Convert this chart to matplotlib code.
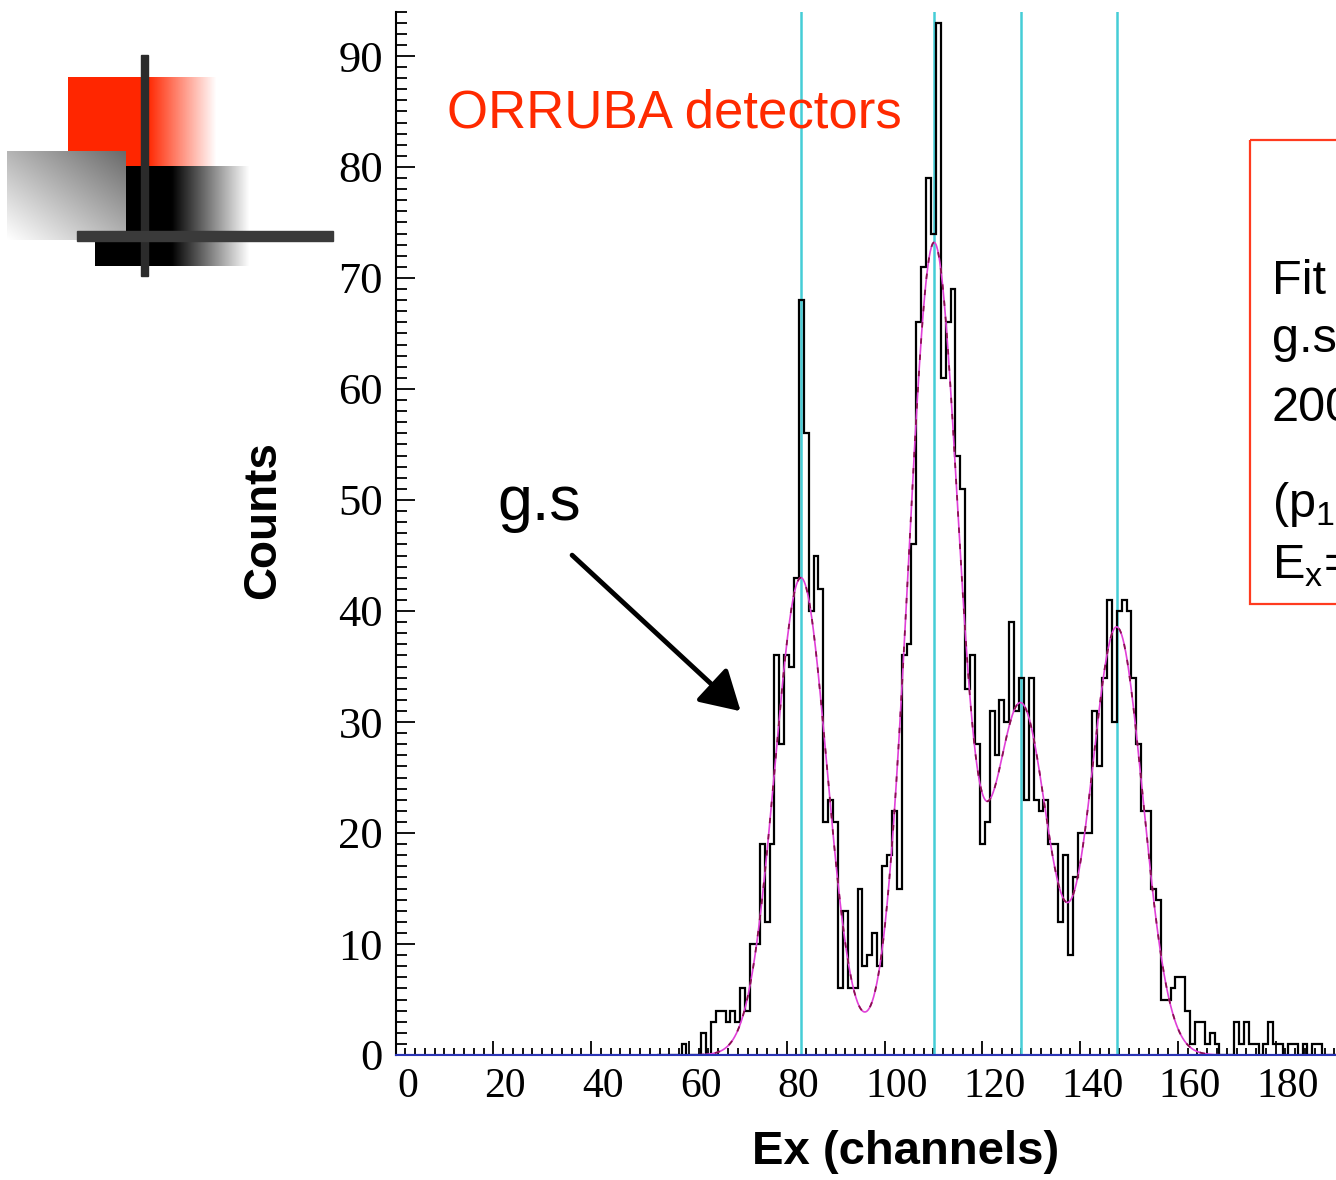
import numpy as np
import matplotlib.pyplot as plt
from matplotlib.patches import Rectangle
from matplotlib.transforms import ScaledTranslation

plt.rcParams['font.family'] = 'Liberation Sans'
plt.rcParams['mathtext.fontset'] = 'custom'
plt.rcParams['mathtext.rm'] = 'Liberation Sans'

# Ex spectrum, 1-channel bins, first bin centred on channel 54
first_channel = 54
counts = [0, 0, 0, 0, 0, 1, 0, 0, 0, 2, 0, 3, 4, 4, 3, 4, 3, 6, 4, 10,
          10, 19, 12, 19, 36, 28, 36, 35, 43, 68, 56, 40, 45, 42, 21, 23, 21, 6, 13, 6,
          6, 15, 8, 9, 11, 8, 17, 18, 22, 15, 36, 37, 46, 66, 71, 79, 74, 93, 61, 66,
          69, 54, 51, 33, 36, 28, 19, 21, 31, 27, 32, 30, 39, 31, 34, 23, 34, 23, 22, 23,
          19, 19, 12, 18, 9, 16, 20, 20, 20, 31, 26, 34, 41, 30, 40, 41, 40, 34, 28, 22,
          22, 15, 14, 5, 5, 6, 7, 7, 4, 1, 3, 3, 1, 2, 1, 0, 0, 0, 3, 1,
          3, 1, 1, 0, 1, 3, 1, 1, 0, 1, 1, 0, 1, 0, 1, 1, 0, 0, 0]

# four-gaussian fit (centroids also marked with vertical lines)
peak_pos = [82.9, 110.1, 127.9, 147.5]
peak_amp = [43.0, 73.0, 31.5, 38.5]
peak_sigma = [5.3, 5.2, 5.6, 5.3]
fit_lo, fit_hi = 62, 172

x_ticks = [0, 20, 40, 60, 80, 100, 120, 140, 160, 180]
y_ticks = [0, 10, 20, 30, 40, 50, 60, 70, 80, 90]

W, H = 1336, 1180
fig = plt.figure(figsize=(W / 100, H / 100), dpi=100)
ax = fig.add_axes([395.5 / W, 125 / H, 978 / W, 1043.4 / H])

edges = np.arange(len(counts) + 1) + first_channel - 0.5
ax.stairs(counts, edges, color='black', lw=1.6, zorder=3)

xf = np.linspace(fit_lo, fit_hi, 1000)
yf = np.zeros_like(xf)
for mu, a, s in zip(peak_pos, peak_amp, peak_sigma):
    yf += a * np.exp(-0.5 * ((xf - mu) / s) ** 2)
ax.plot(xf, yf, color='#e040d8', lw=1.2, zorder=4)
ax.plot(xf, yf, color='#8a1050', lw=1.3, dashes=(3, 6), zorder=4)

for mu in peak_pos:
    ax.axvline(mu, color='#45cdd6', lw=1.8, zorder=2)

ax.axhline(0, color='#2a35b5', lw=1.5, zorder=5)

ax.set_xlim(0, 200)
ax.set_ylim(0, 94)
ax.set_xticks(x_ticks)
ax.set_xticks(np.arange(0, 200, 2), minor=True)
ax.set_yticks(y_ticks)
ax.set_yticks(np.arange(0, 95, 1), minor=True)
ax.tick_params(which='both', direction='in', top=False, right=False, color='black')
ax.tick_params(axis='x', which='major', length=10, width=1.3, pad=9, labelsize=30)
ax.tick_params(axis='x', which='minor', length=5, width=1.3)
ax.tick_params(axis='y', which='major', length=14, width=1.3, pad=9, labelsize=32)
ax.tick_params(axis='y', which='minor', length=8, width=1.3)
shift = ScaledTranslation(0.12, 0, fig.dpi_scale_trans)
for lbl in ax.get_xticklabels():
    lbl.set_fontfamily('Liberation Serif')
    lbl.set_transform(lbl.get_transform() + shift)
for lbl in ax.get_yticklabels():
    lbl.set_fontfamily('Liberation Serif')

for side in ('top', 'right'):
    ax.spines[side].set_visible(False)
ax.spines['left'].set_linewidth(1.5)
ax.spines['bottom'].set_color('#2a35b5')
ax.spines['bottom'].set_linewidth(1.5)

ax.text(10.5, 83.6, 'ORRUBA detectors', color='#ff2a00', fontsize=38, va='baseline')
ax.text(20.8, 48.2, 'g.s', fontsize=45, va='baseline')
ax.annotate('', xy=(71.0, 30.8), xytext=(35.7, 45.2),
            arrowprops=dict(arrowstyle='-|>,head_length=0.6,head_width=0.35',
                            lw=3.5, color='black', mutation_scale=40))

fig.text(263 / W, 1 - 520 / H, 'Counts', rotation=90, ha='center', va='center',
         fontsize=33, fontweight='bold')
fig.text(906 / W, 1 - 1152 / H, 'Ex (channels)', ha='center', va='center',
         fontsize=34, fontweight='bold')

# slide decoration and the fit-result box, in pixel coordinates
deco = fig.add_axes([0, 0, 1, 1], zorder=5)
deco.patch.set_alpha(0)
deco.axis('off')

xr = np.linspace(68, 217, 150)
red = np.zeros((1, xr.size, 4))
red[..., 0], red[..., 1], red[..., 2] = 1.0, 0.15, 0.0
red[0, :, 3] = np.clip((217 - xr) / (217 - 148), 0, 1)
deco.imshow(red, extent=[68, 217, 166, 77], aspect='auto', interpolation='bilinear')

xb = np.linspace(95, 250, 160)
blk = np.zeros((1, xb.size, 4))
blk[0, :, 3] = np.clip((250 - xb) / (250 - 172), 0, 1)
deco.imshow(blk, extent=[95, 250, 266, 166], aspect='auto', interpolation='bilinear')

u, v = np.meshgrid(np.linspace(0, 1, 60), np.linspace(0, 1, 60))
g = 1 - 0.58 * (u + (1 - v)) / 2
gray = np.dstack([g, g, g])
deco.imshow(gray, extent=[7, 126, 240, 151], aspect='auto', interpolation='bilinear')

deco.add_patch(Rectangle((141, 55), 7, 221, color='#2b2b2b'))
deco.add_patch(Rectangle((77, 231), 256, 10, color='#3a3a3a'))

deco.add_patch(Rectangle((1250, 140), 200, 464, fill=False, edgecolor='#ff3b1f', lw=1.6))
for y, s in [(294, 'Fit'), (352, 'g.s'), (421, '200'), (517, '(p$_1$'), (579, 'E$_\\mathrm{x}$=')]:
    deco.text(1272, y, s, fontsize=35, va='baseline')

deco.set_xlim(0, W)
deco.set_ylim(H, 0)

fig.savefig('out.png', dpi=100)
